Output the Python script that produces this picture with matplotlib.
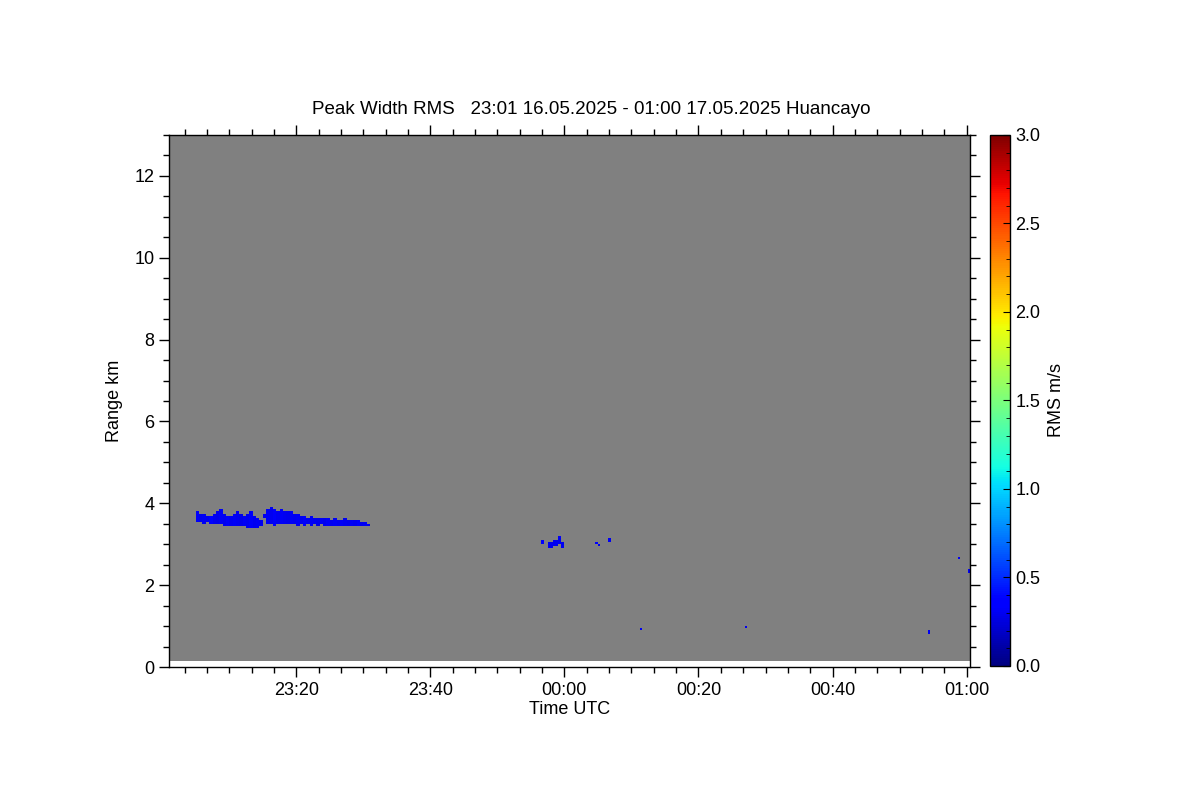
import numpy as np
import matplotlib
matplotlib.use('Agg')
import matplotlib.pyplot as plt
from matplotlib.ticker import FixedLocator, MultipleLocator

plt.rcParams['font.family'] = ['Liberation Sans', 'DejaVu Sans']

# time in minutes after 23:00 UTC (16.05.2025), range in km
t_start = 1.0
t_end = 120.5
r_start = 0.15
r_end = 13.0

# main cloud layer, one column every 0.5 min
layer_t = [5.0, 5.5, 6.0, 6.5, 7.0, 7.5, 8.0, 8.5, 9.0, 9.5,
           10.0, 10.5, 11.0, 11.5, 12.0, 12.5, 13.0, 13.5, 14.0, 14.5,
           15.0, 15.5, 16.0, 16.5, 17.0, 17.5, 18.0, 18.5, 19.0, 19.5,
           20.0, 20.5, 21.0, 21.5, 22.0, 22.5, 23.0, 23.5, 24.0, 24.5,
           25.0, 25.5, 26.0, 26.5, 27.0, 27.5, 28.0, 28.5, 29.0, 29.5,
           30.0, 30.5]
layer_base = [3.54, 3.53, 3.52, 3.54, 3.52, 3.50, 3.50, 3.48, 3.47, 3.46,
              3.47, 3.45, 3.44, 3.43, 3.45, 3.42, 3.41, 3.40, 3.42, 3.44,
              3.64, 3.50, 3.48, 3.46, 3.48, 3.50, 3.48, 3.50, 3.48, 3.49,
              3.47, 3.49, 3.47, 3.49, 3.47, 3.49, 3.47, 3.49, 3.46, 3.47,
              3.46, 3.47, 3.45, 3.47, 3.45, 3.46, 3.45, 3.44, 3.45, 3.44,
              3.44, 3.44]
layer_top = [3.80, 3.74, 3.77, 3.72, 3.70, 3.74, 3.78, 3.83, 3.76, 3.72,
             3.68, 3.74, 3.80, 3.76, 3.70, 3.74, 3.78, 3.70, 3.64, 3.60,
             3.76, 3.84, 3.88, 3.86, 3.82, 3.86, 3.82, 3.78, 3.80, 3.74,
             3.76, 3.70, 3.68, 3.66, 3.68, 3.64, 3.66, 3.64, 3.66, 3.64,
             3.62, 3.64, 3.62, 3.62, 3.64, 3.60, 3.62, 3.60, 3.59, 3.56,
             3.54, 3.52]
layer_val = [0.32, 0.30, 0.31, 0.30, 0.33, 0.30, 0.29, 0.31, 0.30, 0.32,
             0.30, 0.31, 0.30, 0.29, 0.31, 0.30, 0.32, 0.30, 0.31, 0.30,
             0.30, 0.31, 0.30, 0.32, 0.30, 0.31, 0.30, 0.29, 0.31, 0.30,
             0.31, 0.30, 0.32, 0.30, 0.31, 0.30, 0.29, 0.31, 0.30, 0.32,
             0.30, 0.31, 0.30, 0.31, 0.30, 0.29, 0.31, 0.30, 0.32, 0.30,
             0.31, 0.30]

# isolated echoes: start/end time, bottom/top range, value
echo_t0 = [56.6, 57.6, 58.2, 59.0, 59.6, 59.2, 64.4, 65.0, 66.4, 71.2, 87.0, 114.2, 118.7, 120.2]
echo_t1 = [57.0, 58.2, 59.0, 59.6, 60.1, 59.5, 65.0, 65.3, 67.0, 71.5, 87.3, 114.5, 119.0, 120.5]
echo_r0 = [3.02, 2.90, 2.95, 3.00, 2.92, 3.14, 2.98, 2.94, 3.06, 0.92, 0.95, 0.82, 2.63, 2.28]
echo_r1 = [3.10, 3.05, 3.10, 3.18, 3.05, 3.20, 3.03, 3.00, 3.17, 0.97, 1.02, 0.90, 2.69, 2.38]
echo_val = [0.35, 0.30, 0.30, 0.30, 0.30, 0.32, 0.35, 0.30, 0.30, 0.30, 0.30, 0.30, 0.30, 0.30]

xtick_pos = [20, 40, 60, 80, 100, 120]
xtick_labels = ['23:20', '23:40', '00:00', '00:20', '00:40', '01:00']

# build the time-range grid
t_edges = np.arange(t_start, t_end + 0.001, 0.25)
r_edges = np.arange(r_start, r_end + 0.001, 0.05)
tc = 0.5 * (t_edges[:-1] + t_edges[1:])
rc = 0.5 * (r_edges[:-1] + r_edges[1:])
grid = np.full((len(rc), len(tc)), np.nan)

for t0, b, top, v in zip(layer_t, layer_base, layer_top, layer_val):
    cols = (tc >= t0) & (tc < t0 + 0.5)
    rows = (rc >= b) & (rc <= top)
    grid[np.ix_(rows, cols)] = v

for t0, t1, r0, r1, v in zip(echo_t0, echo_t1, echo_r0, echo_r1, echo_val):
    cols = (tc >= t0) & (tc <= t1)
    rows = (rc >= r0) & (rc <= r1)
    grid[np.ix_(rows, cols)] = v

cmap = plt.get_cmap('jet').copy()
cmap.set_bad('#808080')

fig = plt.figure(figsize=(12, 8), dpi=100)
ax = fig.add_axes([0.1408, 0.16625, 0.6675, 0.665])
mesh = ax.pcolormesh(t_edges, r_edges, np.ma.masked_invalid(grid),
                     cmap=cmap, vmin=0.0, vmax=3.0, shading='flat')
ax.set_xlim(t_start, t_end)
ax.set_ylim(0, 13)

ax.xaxis.set_major_locator(FixedLocator(xtick_pos))
ax.set_xticklabels(xtick_labels)
ax.xaxis.set_minor_locator(MultipleLocator(20 / 6))
ax.yaxis.set_major_locator(MultipleLocator(2))
ax.yaxis.set_minor_locator(MultipleLocator(0.5))
ax.tick_params(which='both', direction='out', top=True, right=True, labelsize=13)
ax.tick_params(which='major', length=7, width=1)
ax.tick_params(which='minor', length=4, width=1)
for s in ax.spines.values():
    s.set_linewidth(1)

ax.set_xlabel('Time UTC', fontsize=13, labelpad=2)
ax.set_ylabel('Range km', fontsize=13, labelpad=8)
ax.set_title('Peak Width RMS   23:01 16.05.2025 - 01:00 17.05.2025 Huancayo',
             fontsize=13.5, pad=15, x=0.527)

cax = fig.add_axes([0.825, 0.1675, 0.0167, 0.664])
cb = fig.colorbar(mesh, cax=cax, ticks=[0.0, 0.5, 1.0, 1.5, 2.0, 2.5, 3.0])
cb.ax.set_yticklabels(['0.0', '0.5', '1.0', '1.5', '2.0', '2.5', '3.0'])
cb.ax.yaxis.set_minor_locator(MultipleLocator(0.1))
cb.ax.tick_params(which='both', direction='in', labelsize=13, pad=4)
cb.ax.tick_params(which='major', length=5)
cb.ax.tick_params(which='minor', length=3)
cb.outline.set_linewidth(1)
cb.set_label('RMS m/s', fontsize=13, labelpad=5)

fig.savefig('out.png', dpi=100)
